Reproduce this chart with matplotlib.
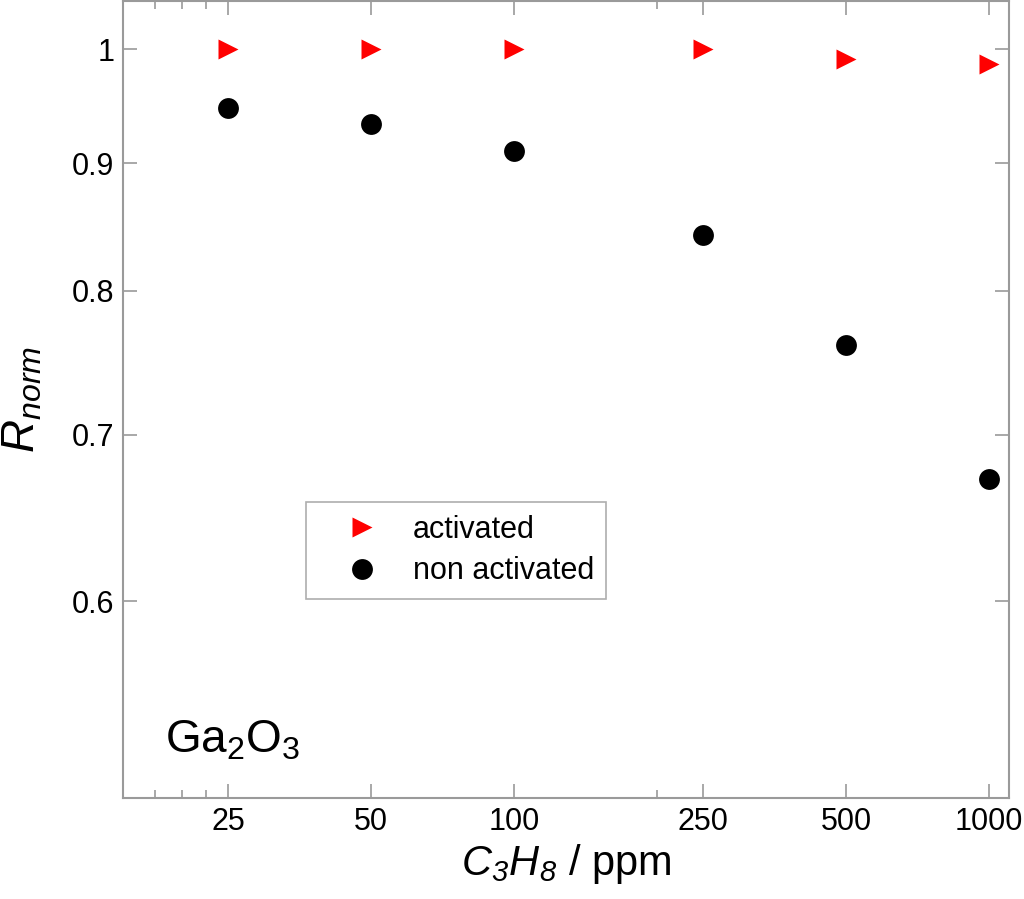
import matplotlib
matplotlib.use("Agg")
import matplotlib.pyplot as plt  # noqa: E402
from matplotlib.ticker import FixedLocator, FixedFormatter, NullLocator  # noqa: E402

plt.rcParams["font.family"] = ["Liberation Sans", "DejaVu Sans"]
plt.rcParams["mathtext.fontset"] = "custom"
plt.rcParams["mathtext.rm"] = "Liberation Sans"
plt.rcParams["mathtext.it"] = "Liberation Sans:italic"
# italic digits too: use the sf slot for an all-italic face
plt.rcParams["mathtext.sf"] = "Liberation Sans:italic"

# concentrations (ppm) and normalised response
conc = [25, 50, 100, 250, 500, 1000]
activated = [1.0, 1.0, 1.0, 1.0, 0.991, 0.987]
non_activated = [0.947, 0.933, 0.910, 0.842, 0.761, 0.672]

x_ticks = [25, 50, 100, 250, 500, 1000]
x_minor = [17.5, 20, 22.5, 200]
y_ticks = [0.6, 0.7, 0.8, 0.9, 1.0]
y_labels = ["0.6", "0.7", "0.8", "0.9", "1"]

GRAY = "#9a9a9a"

fig = plt.figure(figsize=(10.24, 8.99), dpi=100)
ax = fig.add_axes([0.120, 0.112, 0.865, 0.887])

ax.plot(conc, activated, ">", color="red", ms=14, mec="none",
        label="activated", zorder=3)
ax.plot(conc, non_activated, "o", color="black", ms=15, mec="none",
        label="non activated", zorder=3)

ax.set_xscale("log")
ax.set_yscale("log")
ax.set_xlim(15, 1100)
ax.set_ylim(0.5, 1.046)

ax.xaxis.set_major_locator(FixedLocator(x_ticks))
ax.xaxis.set_major_formatter(FixedFormatter([str(v) for v in x_ticks]))
ax.xaxis.set_minor_locator(FixedLocator(x_minor))
ax.xaxis.set_minor_formatter(FixedFormatter([""] * len(x_minor)))
ax.yaxis.set_major_locator(FixedLocator(y_ticks))
ax.yaxis.set_major_formatter(FixedFormatter(y_labels))
ax.yaxis.set_minor_locator(NullLocator())

ax.tick_params(which="both", direction="in", top=True, right=True,
               color=GRAY, width=1.2, labelsize=22)
ax.tick_params(which="major", length=10, pad=6)
ax.tick_params(which="minor", length=6)
for sp in ax.spines.values():
    sp.set_color(GRAY)
    sp.set_linewidth(1.5)

ax.set_xlabel(r"$\mathsf{C_3H_8}$ / ppm", fontsize=30, labelpad=4)
ax.set_ylabel(r"$\mathsf{R_{norm}}$", fontsize=33, labelpad=20)

ax.text(0.047, 0.058, r"Ga$_2$O$_3$", transform=ax.transAxes, fontsize=33)

leg = ax.legend(loc="upper left", bbox_to_anchor=(0.2065, 0.371),
                borderaxespad=0, fontsize=22, frameon=True, fancybox=False,
                handletextpad=0.2, borderpad=0.4, labelspacing=0.38,
                handlelength=2.9)
leg.get_frame().set_edgecolor(GRAY)
leg.get_frame().set_linewidth(1.2)

fig.savefig("out.png", dpi=100)
